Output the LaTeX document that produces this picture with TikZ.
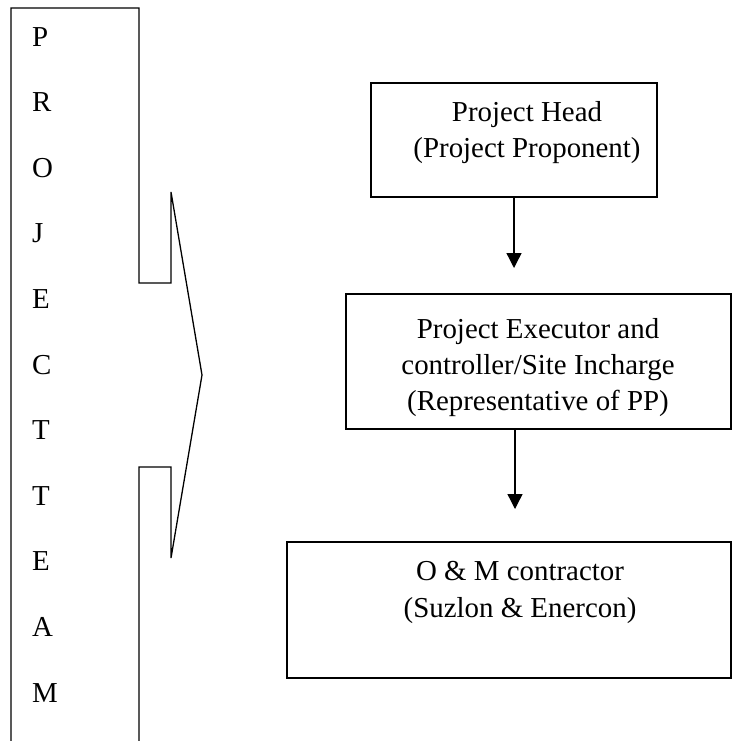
\documentclass[tikz,border=0pt]{standalone}
\usepackage{fontspec}
\setmainfont{Liberation Serif}
\usetikzlibrary{arrows.meta}
\begin{document}
\begin{tikzpicture}[x=1pt,y=-1pt,
  ln/.style={line width=1.3pt},
  box/.style={ln,draw,rectangle,inner sep=0pt},
  txt/.style={font=\fontsize{28.9}{36}\selectfont,align=center,inner sep=0pt},
  letter/.style={font=\fontsize{28.9}{36}\selectfont,anchor=base west,inner sep=0pt},
  arr/.style={ln,-{Triangle[length=15pt,width=15pt]}}]
\useasboundingbox (0,0) rectangle (751,740);
% left bracket shape
\draw[ln,line join=miter] (11,741) -- (11,8) -- (139,8) -- (139,283) -- (171,283) -- (171,192)
  -- (202,375) -- (171,558) -- (171,467) -- (139,467) -- (139,741);
\foreach \L [count=\i from 0] in {P,R,O,J,E,C,T,T,E,A,M}
  \node[letter] (l\i) at (32,{46+65.6*\i}) {\L};
% boxes
\node[box,minimum width=286pt,minimum height=114pt] (b1) at (514,140) {};
\node[box,minimum width=385pt,minimum height=135pt] (b2) at (538.5,361.5) {};
\node[box,minimum width=444pt,minimum height=136pt] (b3) at (509,610) {};
\node[txt,anchor=base] (t1a) at (527,121) {Project Head};
\node[txt,anchor=base] (t1b) at (527,157) {(Project Proponent)};
\node[txt,anchor=base] (t2a) at (538,338) {Project Executor and};
\node[txt,anchor=base] (t2b) at (538,374) {controller/Site Incharge};
\node[txt,anchor=base] (t2c) at (538,410) {(Representative of PP)};
\node[txt,anchor=base] (t3a) at (520,580) {O \& M contractor};
\node[txt,anchor=base] (t3b) at (520,617) {(Suzlon \& Enercon)};
% arrows
\coordinate (e1) at (514,268);
\coordinate (e2) at (515,509);
\draw[arr] (b1.south) -- (e1);
\draw[arr] (b2.south -| e2) -- (e2);
\end{tikzpicture}
\end{document}
